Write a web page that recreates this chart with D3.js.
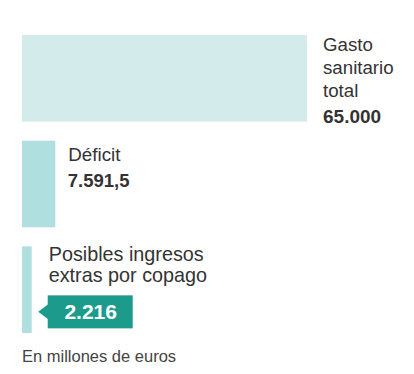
<!DOCTYPE html>
<html>
<head>
<meta charset="utf-8">
<script src="https://cdn.jsdelivr.net/npm/d3@7"></script>
<style>
  html, body { margin: 0; padding: 0; background: #fff; }
  svg { display: block; }
  text { font-family: "Liberation Sans", Arial, Helvetica, sans-serif; }
</style>
</head>
<body>
<script>
// Data
const categories = ["Gasto sanitario total", "Déficit", "Posibles ingresos extras por copago"];
const allValues = [65000, 7591.5, 2216];
const labelLines = [["Gasto", "sanitario", "total"], ["Déficit"], ["Posibles ingresos", "extras por copago"]];
const valueLabels = ["65.000", "7.591,5", "2.216"];
const footnote = "En millones de euros";
const barColors = ["#d3ebeb", "#b0dfdf", "#b0dfdf"];

const W = 414, H = 374;
const svg = d3.select("body").append("svg").attr("width", W).attr("height", H);

const x = d3.scaleLinear().domain([0, 65000]).range([22, 307]);
const y = d3.scaleBand().domain(categories).range([35, 333]).paddingInner(0.18);

const rows = categories.map((c, i) => ({ c, v: allValues[i], i }));

svg.selectAll("rect.bar").data(rows).join("rect")
  .attr("class", "bar")
  .attr("x", x(0))
  .attr("y", d => y(d.c))
  .attr("width", d => x(d.v) - x(0))
  .attr("height", y.bandwidth())
  .attr("fill", d => barColors[d.i]);

const textColor = "#333";

// Row 1: Gasto sanitario total
{
  const d = rows[0];
  const tx = x(d.v) + 16, ty = y(d.c);
  const g = svg.append("text").attr("fill", textColor).attr("font-size", 18.7);
  labelLines[0].forEach((l, k) => g.append("tspan").attr("x", tx).attr("y", ty + 16 + k * 23).text(l));
  svg.append("text").attr("x", tx).attr("y", ty + 88).attr("font-size", 19).attr("font-weight", "bold")
    .attr("fill", textColor).text(valueLabels[0]);
}
// Row 2: Déficit
{
  const d = rows[1];
  const tx = x(d.v) + 13, ty = y(d.c);
  svg.append("text").attr("x", tx).attr("y", ty + 20).attr("font-size", 18.8).attr("fill", textColor).text(labelLines[1][0]);
  svg.append("text").attr("x", tx - 0.5).attr("y", ty + 46).attr("font-size", 18.5).attr("font-weight", "bold")
    .attr("fill", textColor).text(valueLabels[1]);
}
// Row 3: copago with callout
{
  const d = rows[2];
  const tx = x(d.v) + 17, ty = y(d.c);
  const g = svg.append("text").attr("fill", textColor).attr("font-size", 19.8);
  labelLines[2].forEach((l, k) => g.append("tspan").attr("x", tx).attr("y", ty + 14.5 + k * 21.5).text(l));
  const bx = tx - 1, by = ty + 49, bw = 85, bh = 33;
  const teal = "#1c9b8d";
  svg.append("rect").attr("x", bx).attr("y", by).attr("width", bw).attr("height", bh).attr("fill", teal);
  svg.append("path")
    .attr("d", `M${bx + 0.5},${by + 9} L${bx - 9.5},${by + 16.5} L${bx + 0.5},${by + 24} Z`)
    .attr("fill", teal);
  svg.append("text").attr("x", bx + bw / 2 + 0.5).attr("y", by + 23.5).attr("text-anchor", "middle")
    .attr("font-size", 21).attr("font-weight", "bold").attr("fill", "#fff").text(valueLabels[2]);
}

svg.append("text").attr("x", 22).attr("y", 361.5).attr("font-size", 16.5).attr("fill", "#444").text(footnote);
</script>
</body>
</html>
